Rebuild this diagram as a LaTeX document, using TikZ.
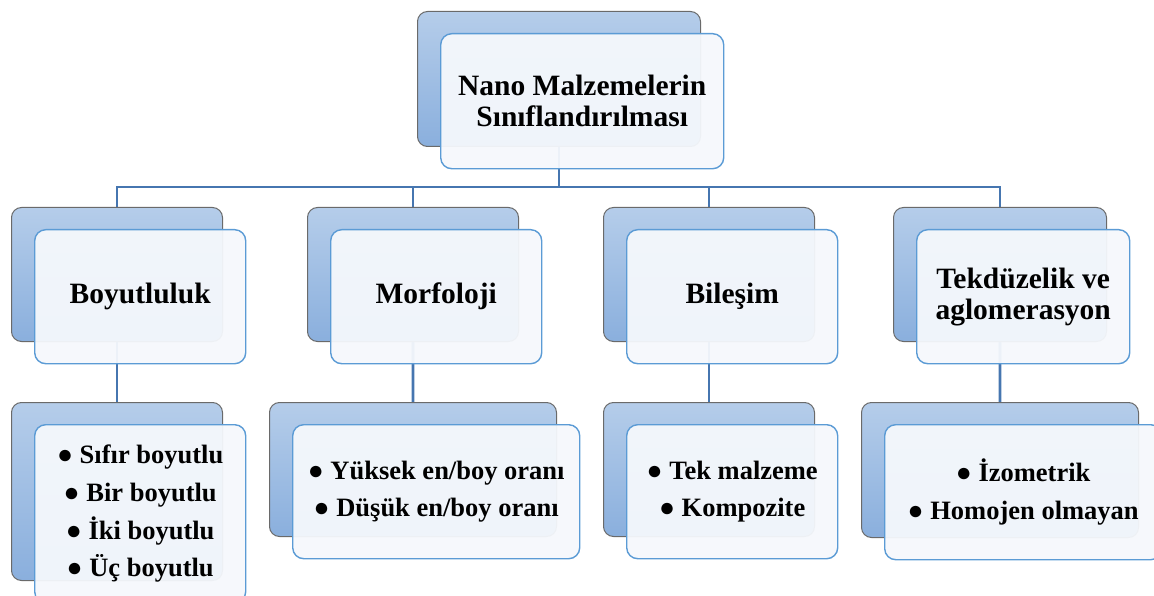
\documentclass[tikz,border=0pt]{standalone}
\usepackage{fontspec}
\setmainfont{Liberation Serif}
\definecolor{conn}{HTML}{4676B0}
\definecolor{backtop}{HTML}{B5CDEA}
\definecolor{backbot}{HTML}{8AAFDD}
\definecolor{backline}{HTML}{6A6A6A}
\definecolor{frontfill}{HTML}{F5F8FC}
\definecolor{frontline}{HTML}{5B9BD5}
\pgfdeclarelayer{background}
\pgfsetlayers{background,main}
\tikzset{
  backbox/.style={draw=backline, line width=1bp, rounded corners=10bp,
    top color=backtop, bottom color=backbot, anchor=north west, inner sep=0pt},
  frontbox/.style={draw=frontline, line width=1.4bp, rounded corners=11bp,
    fill=frontfill, fill opacity=0.95, text opacity=1, anchor=north west,
    inner sep=0pt, align=center, font=\bfseries},
  connector/.style={draw=conn, line width=2.8bp},
  headtext/.style={font=\bfseries\fontsize{29.5bp}{31bp}\selectfont},
  itemtext/.style={font=\bfseries\fontsize{26.5bp}{37.7bp}\selectfont}
}
\newcommand\mkpair[7]{%
  \node[backbox, minimum width=#4bp, minimum height=#5bp] (b#1) at (#2,#3) {};
  \node[frontbox, #6, minimum width=#4bp, minimum height=#5bp] (f#1) at (#2+23,#3+22) {#7};
}
\begin{document}
\begin{tikzpicture}[x=1bp,y=-1bp]
\useasboundingbox (0,0) rectangle (1154,596);
\clip (0,0) rectangle (1154,596);
% level 0
\mkpair{top}{417}{11}{283}{135}{headtext}{Nano Malzemelerin\\Sınıflandırılması}
% level 1
\mkpair{a}{11}{207}{211}{134}{headtext}{Boyutluluk}
\mkpair{b}{307}{207}{211}{134}{headtext}{Morfoloji}
\mkpair{c}{603}{207}{211}{134}{headtext}{Bileşim}
\mkpair{d}{893}{207}{213}{134}{headtext}{Tekdüzelik ve\\aglomerasyon}
% level 2
\mkpair{aa}{11}{402}{211}{178}{itemtext}{● Sıfır boyutlu\\● Bir boyutlu\\● İki boyutlu\\● Üç boyutlu}
\mkpair{bb}{269}{402}{287}{134}{itemtext}{● Yüksek en/boy oranı\\● Düşük en/boy oranı}
\mkpair{cc}{603}{402}{211}{134}{itemtext}{● Tek malzeme\\● Kompozite}
\mkpair{dd}{861}{402}{277}{135}{itemtext}{● İzometrik\\● Homojen olmayan}
% connectors
\begin{pgfonlayer}{background}
\coordinate (bus) at (0,187);
\draw[connector] (btop.south) -- (btop.south |- bus) -| (ba.north);
\draw[connector] (btop.south) -- (btop.south |- bus) -| (bb.north);
\draw[connector] (btop.south) -- (btop.south |- bus) -| (bc.north);
\draw[connector] (btop.south) -- (btop.south |- bus) -| (bd.north);
\draw[connector] (ba.south) -- (baa.north);
\draw[connector] (bb.south) -- (bbb.north);
\draw[connector] (bc.south) -- (bcc.north);
\draw[connector] (bd.south) -- (bdd.north);
\end{pgfonlayer}
\end{tikzpicture}
\end{document}
